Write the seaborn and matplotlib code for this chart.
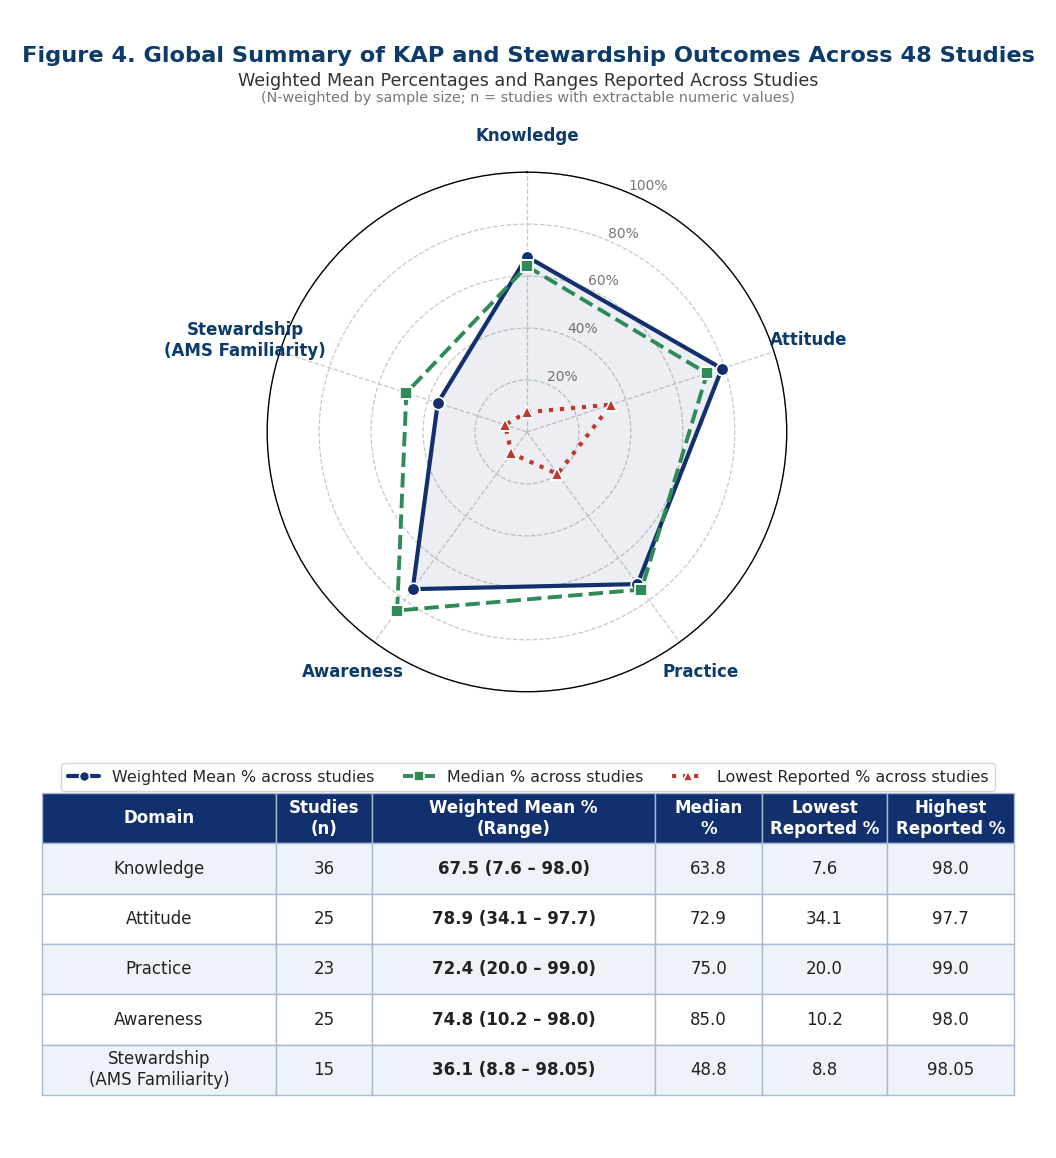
import numpy as np
import pandas as pd
import matplotlib
matplotlib.use("Agg")
import matplotlib.pyplot as plt
import seaborn as sns

domains = ["Knowledge", "Attitude", "Practice", "Awareness", "Stewardship\n(AMS Familiarity)"]
studies_n = [36, 25, 23, 25, 15]
weighted_mean = [67.5, 78.9, 72.4, 74.8, 36.1]
median_pct = [63.8, 72.9, 75.0, 85.0, 48.8]
lowest_pct = [7.6, 34.1, 20.0, 10.2, 8.8]
highest_pct = ["98.0", "97.7", "99.0", "98.0", "98.05"]
rticks = [20, 40, 60, 80, 100]

navy = "#12306e"
title_navy = "#0b3a6b"
green = "#2e8b57"
red = "#c0392b"

sns.set_theme(style="white")
plt.rcParams["font.family"] = ["DejaVu Sans"]

fig = plt.figure(figsize=(10.56, 11.58), dpi=100)

fig.text(0.5, 0.952, "Figure 4. Global Summary of KAP and Stewardship Outcomes Across 48 Studies",
         ha="center", va="center", fontsize=16.2, fontweight="bold", color=title_navy)
fig.text(0.5, 0.930, "Weighted Mean Percentages and Ranges Reported Across Studies",
         ha="center", va="center", fontsize=12.6, color="#333333")
fig.text(0.5, 0.915, "(N-weighted by sample size; n = studies with extractable numeric values)",
         ha="center", va="center", fontsize=10.4, color="#777777")

# radar
ax = fig.add_axes([0.253, 0.4025, 0.492, 0.449], projection="polar")
ax.set_theta_offset(np.pi / 2)
ax.set_theta_direction(-1)
theta = np.linspace(0, 2 * np.pi, len(domains), endpoint=False)
theta_c = np.append(theta, 2 * np.pi)

def closed(v):
    return np.append(v, v[0])

ax.fill(theta_c, closed(weighted_mean), color=navy, alpha=0.08, zorder=1)

series = [
    ("Weighted Mean % across studies", weighted_mean, navy, "-", "o", 3.0),
    ("Median % across studies", median_pct, green, "--", "s", 2.8),
    ("Lowest Reported % across studies", lowest_pct, red, ":", "^", 3.0),
]
for lab, vals, col, ls, mk, lw in series:
    sns.lineplot(x=theta_c, y=closed(vals), ax=ax, sort=False, estimator=None,
                 color=col, linestyle=ls, linewidth=lw, marker=mk, markersize=9,
                 markeredgecolor="white", markeredgewidth=1.2, label=lab, legend=False, zorder=3)

ax.set_ylim(0, 100)
ax.set_yticks(rticks)
ax.set_yticklabels([f"{t}%" for t in rticks], fontsize=10, color="#777777")
ax.set_rlabel_position(23)
ax.set_xticks(theta)
ax.set_xticklabels([])
ax.set_xlabel("")
ax.set_ylabel("")
ax.grid(True, color="#c8c8c8", linestyle="--", linewidth=0.9)
ax.spines["polar"].set_color("black")
ax.spines["polar"].set_linewidth(1.0)
ax.set_facecolor("white")

for t, d in zip(theta, domains):
    ax.text(t, 114, d, ha="center", va="center", fontsize=12, fontweight="bold",
            color=title_navy)

handles, labels = ax.get_legend_handles_labels()
fig.legend(handles, labels, loc="center", bbox_to_anchor=(0.5, 0.329), ncol=3,
           fontsize=11.4, frameon=True, handlelength=2.0, columnspacing=1.8,
           markerscale=0.8, edgecolor="#cccccc", fancybox=True)

# table
tax = fig.add_axes([0.0398, 0.0544, 0.9205, 0.2608])
tax.axis("off")
col_labels = ["Domain", "Studies\n(n)", "Weighted Mean %\n(Range)", "Median\n%",
              "Lowest\nReported %", "Highest\nReported %"]
rows = []
for i in range(len(domains)):
    rows.append([domains[i], str(studies_n[i]),
                 f"{weighted_mean[i]:.1f} ({lowest_pct[i]:.1f} \u2013 {highest_pct[i]})",
                 f"{median_pct[i]:.1f}", f"{lowest_pct[i]:.1f}", highest_pct[i]])
tbl_df = pd.DataFrame(rows, columns=col_labels)
widths = np.array([234, 96, 283, 107, 125, 127], dtype=float)
widths = widths / widths.sum()
tbl = tax.table(cellText=tbl_df.values, colLabels=tbl_df.columns, colWidths=widths,
                cellLoc="center", bbox=[0, 0, 1, 1])
tbl.auto_set_font_size(False)
for (r, c), cell in tbl.get_celld().items():
    cell.set_edgecolor("#a9b9d3")
    cell.set_linewidth(1.0)
    txt = cell.get_text()
    txt.set_fontsize(12)
    if r == 0:
        cell.set_facecolor(navy)
        txt.set_color("white")
        txt.set_fontweight("bold")
    else:
        cell.set_facecolor("#eef3fa" if r % 2 == 1 else "white")
        txt.set_color("#222222")
        if c == 2:
            txt.set_fontweight("bold")

fig.savefig("out.png", dpi=100, facecolor="white")
